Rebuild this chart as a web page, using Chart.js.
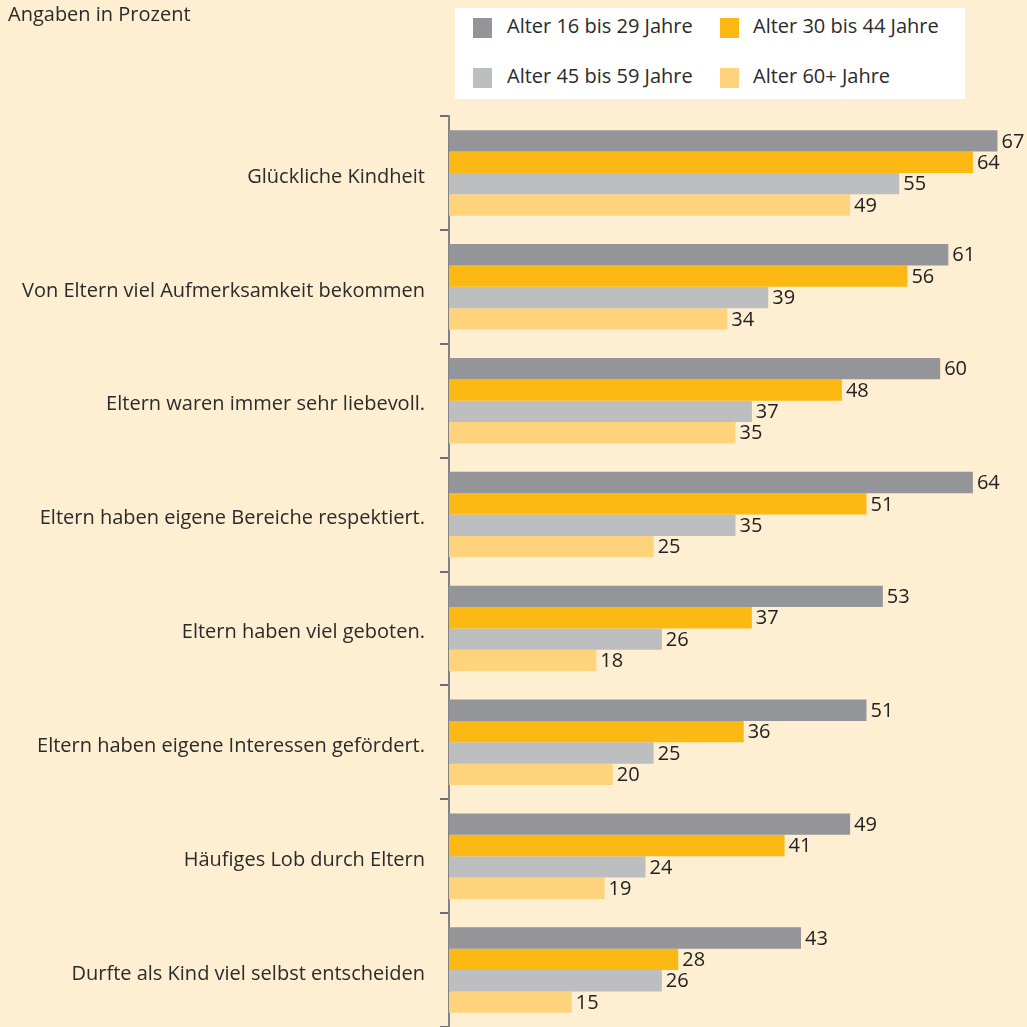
<!DOCTYPE html>
<html lang="de">
<head>
<meta charset="utf-8">
<script src="https://cdn.jsdelivr.net/npm/chart.js@4"></script>
<style>
    html, body { margin: 0; padding: 0; background: #feefd3; overflow: hidden; }
    #wrap { position: relative; width: 1027px; height: 1027px; overflow: hidden; }
    #chart { position: absolute; left: 0; top: 0; }
    .note { position: absolute; left: 8px; top: 0px; font: 20px "Open Sans", sans-serif; color: #2b2b2b; }
    #legend { position: absolute; left: 455px; top: 8px; width: 510px; height: 91px; background: #fff; }
    .item { position: absolute; font: 20px "Open Sans", sans-serif; color: #2b2b2b; white-space: nowrap; }
    .item span.box { position: absolute; left: 0; top: 1px; width: 19px; height: 20px; }
    .item span.txt { position: absolute; top: -5px; }
</style>
</head>
<body>
<div id="wrap">
    <canvas id="chart" width="1027" height="1054"></canvas>
    <div class="note">Angaben in Prozent</div>
    <div id="legend"></div>
</div>
<script>
// Kategorien (y-Achse)
const categories = [
    'Glückliche Kindheit',
    'Von Eltern viel Aufmerksamkeit bekommen',
    'Eltern waren immer sehr liebevoll.',
    'Eltern haben eigene Bereiche respektiert.',
    'Eltern haben viel geboten.',
    'Eltern haben eigene Interessen gefördert.',
    'Häufiges Lob durch Eltern',
    'Durfte als Kind viel selbst entscheiden'
];

// Altersgruppen
const seriesNames = ['Alter 16 bis 29 Jahre', 'Alter 30 bis 44 Jahre', 'Alter 45 bis 59 Jahre', 'Alter 60+ Jahre'];
const seriesColors = ['#939598', '#fdb913', '#bcbec0', '#fed37c'];

// Werte in Prozent
const age16to29 = [67, 61, 60, 64, 53, 51, 49, 43];
const age30to44 = [64, 56, 48, 51, 37, 36, 41, 28];
const age45to59 = [55, 39, 37, 35, 26, 25, 24, 26];
const age60plus = [49, 34, 35, 25, 18, 20, 19, 15];

const seriesValues = [age16to29, age30to44, age45to59, age60plus];

// Legende als HTML
const legendPos = [[18, 9, 34], [265, 9, 33], [18, 59, 34], [265, 59, 33]];
const legend = document.getElementById('legend');
seriesNames.forEach((name, i) => {
    const item = document.createElement('div');
    item.className = 'item';
    item.style.left = legendPos[i][0] + 'px';
    item.style.top = legendPos[i][1] + 'px';
    item.innerHTML = '<span class="box" style="background:' + seriesColors[i] + '"></span>' +
        '<span class="txt" style="left:' + legendPos[i][2] + 'px">' + name + '</span>';
    legend.appendChild(item);
});

// Werte hinter die Balken schreiben
const valueLabels = {
    id: 'valueLabels',
    afterDatasetsDraw(chart) {
        const ctx = chart.ctx;
        ctx.save();
        ctx.font = '20px "Open Sans", sans-serif';
        ctx.fillStyle = '#222';
        ctx.textBaseline = 'middle';
        ctx.textAlign = 'left';
        chart.data.datasets.forEach((ds, i) => {
            chart.getDatasetMeta(i).data.forEach((bar, j) => {
                ctx.fillText(ds.data[j], bar.x + 4, bar.y + 1);
            });
        });
        ctx.restore();
    }
};

const ctx = document.getElementById('chart').getContext('2d');
new Chart(ctx, {
    type: 'bar',
    data: {
        labels: categories,
        datasets: seriesNames.map((name, i) => ({
            label: name,
            data: seriesValues[i],
            backgroundColor: seriesColors[i],
            categoryPercentage: 0.75,
            barPercentage: 1.0
        }))
    },
    options: {
        indexAxis: 'y',
        responsive: false,
        animation: false,
        // unten bleibt Platz, den die Leinwand abschneidet
        layout: { padding: { top: 116, right: 5, bottom: 0, left: 0 } },
        plugins: {
            legend: { display: false },
            tooltip: { enabled: false }
        },
        scales: {
            x: {
                display: false,
                min: 0,
                max: 70
            },
            y: {
                afterFit: scale => { scale.width = 449; },
                grid: {
                    offset: true,
                    drawOnChartArea: false,
                    tickLength: 9,
                    color: '#6d6e71',
                    lineWidth: 2
                },
                border: { color: '#808285', width: 2 },
                ticks: {
                    padding: 15,
                    labelOffset: 4,
                    color: '#2b2b2b',
                    font: { family: 'Open Sans', size: 20 }
                }
            }
        }
    },
    plugins: [valueLabels]
});
</script>
</body>
</html>
